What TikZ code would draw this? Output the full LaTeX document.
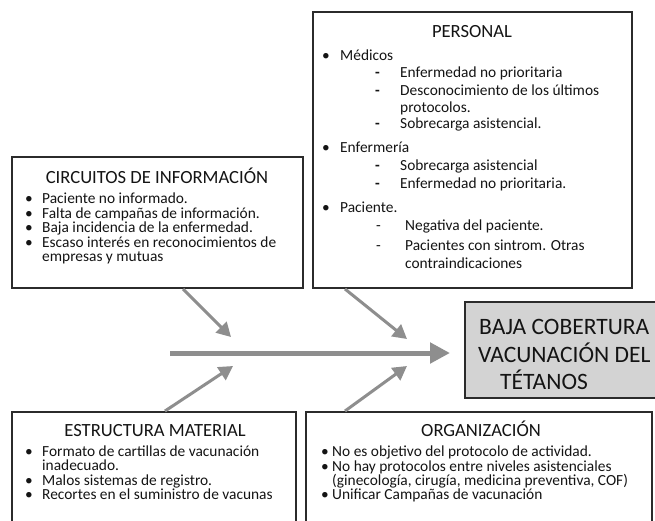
\documentclass[tikz,border=0pt]{standalone}
\usepackage{fontspec}
\setmainfont{Carlito}
\usetikzlibrary{arrows.meta}
\definecolor{boxline}{HTML}{2B2B2B}
\definecolor{arrowgray}{HTML}{8E8E8E}
\definecolor{outfill}{HTML}{D3D3D3}
\definecolor{txt}{HTML}{141414}
\begin{document}
\begin{tikzpicture}[x=1pt,y=-1pt,
  panel/.style={draw=boxline, line width=1.3pt, inner sep=0pt, outer sep=0pt, anchor=north west},
  ln/.style={anchor=base west, inner sep=0pt, font=\fontsize{15.4}{17}\selectfont, text=txt},
  ttl/.style={anchor=base, inner sep=0pt, font=\fontsize{18.6}{20}\selectfont, text=txt},
  big/.style={anchor=base west, inner sep=0pt, font=\fontsize{23.5}{26}\selectfont, text=txt},
  bone/.style={draw=arrowgray, line width=3pt, -{Triangle[length=14pt,width=15pt]}},
  spine/.style={draw=arrowgray, line width=5pt, -{Triangle[length=20pt,width=20pt]}}
]
\useasboundingbox (0,0) rectangle (655,520);
\clip (0,0) rectangle (655,520);
\fill[white] (0,0) rectangle (655,520);

% boxes
\node[panel, minimum width=319pt, minimum height=276pt] (personal) at (313,12) {};
\node[panel, minimum width=291pt, minimum height=131pt] (circ) at (12,157) {};
\node[panel, minimum width=284pt, minimum height=130pt] (estr) at (12,412) {};
\node[panel, minimum width=346pt, minimum height=130pt] (org) at (306,412) {};
\node[panel, fill=outfill, minimum width=220pt, minimum height=96pt] (efecto) at (465,302) {};

% titles
\node[ttl] (tpers) at (472,37) {PERSONAL};
\node[ttl] (tcirc) at (157,183) {CIRCUITOS DE INFORMACIÓN};
\node[ttl] (testr) at (155,436) {ESTRUCTURA MATERIAL};
\node[ttl] (torg) at (481,436) {ORGANIZACIÓN};

% efecto
\node[big] (e1) at (479,334) {BAJA COBERTURA};
\node[big] (e2) at (478,362) {VACUNACIÓN DEL};
\node[big] (e3) at (500,389) {TÉTANOS};

% circuitos
\node[ln] (cb1) at (25,203) {•};
\node[ln] (c1) at (42,203) {Paciente no informado.};
\node[ln] (cb2) at (25,218) {•};
\node[ln] (c2) at (42,218) {Falta de campañas de información.};
\node[ln] (cb3) at (25,232) {•};
\node[ln] (c3) at (42,232) {Baja incidencia de la enfermedad.};
\node[ln] (cb4) at (25,247) {•};
\node[ln] (c4) at (42,247) {Escaso interés en reconocimientos de};
\node[ln] (c5) at (42,261) {empresas y mutuas};

% estructura
\node[ln] (sb1) at (25,456) {•};
\node[ln] (s1) at (42,456) {Formato de cartillas de vacunación};
\node[ln] (s2) at (42,470) {inadecuado.};
\node[ln] (sb3) at (25,485) {•};
\node[ln] (s3) at (42,485) {Malos sistemas de registro.};
\node[ln] (sb4) at (25,499) {•};
\node[ln] (s4) at (42,499) {Recortes en el suministro de vacunas};

% organizacion
\node[ln] (ob1) at (321,456) {•};
\node[ln] (o1) at (332,456) {No es objetivo del protocolo de actividad.};
\node[ln] (ob2) at (321,471) {•};
\node[ln] (o2) at (332,471) {No hay protocolos entre niveles asistenciales};
\node[ln] (o3) at (332,485) {(ginecología, cirugía, medicina preventiva, COF)};
\node[ln] (ob4) at (321,499) {•};
\node[ln] (o4) at (332,499) {Unificar Campañas de vacunación};

% personal
\node[ln] (pb1) at (322,60) {•};
\node[ln] (p1) at (340,60) {Médicos};
\node[ln] (pd1) at (375,77) {\bfseries -};
\node[ln] (p2) at (400,77) {Enfermedad no prioritaria};
\node[ln] (pd2) at (375,95) {\bfseries -};
\node[ln] (p3) at (400,95) {Desconocimiento de los últimos};
\node[ln] (p4) at (400,112) {protocolos.};
\node[ln] (pd3) at (375,128) {\bfseries -};
\node[ln] (p5) at (400,128) {Sobrecarga asistencial.};
\node[ln] (pb2) at (322,152) {•};
\node[ln] (p6) at (340,152) {Enfermería};
\node[ln] (pd4) at (375,170) {\bfseries -};
\node[ln] (p7) at (400,170) {Sobrecarga asistencial};
\node[ln] (pd5) at (375,188) {\bfseries -};
\node[ln] (p8) at (400,188) {Enfermedad no prioritaria.};
\node[ln] (pb3) at (322,212) {•};
\node[ln] (p9) at (340,212) {Paciente.};
\node[ln] (pd6) at (376,230) {-};
\node[ln] (p10) at (405,230) {Negativa del paciente.};
\node[ln] (pd7) at (376,250) {-};
\node[ln] (p11) at (405,250) {Pacientes con sintrom. Otras};
\node[ln] (p12) at (405,268) {contraindicaciones};

% arrows
\coordinate (tail) at (170,353);
\coordinate (h1) at (231,337);
\coordinate (h2) at (407,339);
\coordinate (h3) at (233,366);
\coordinate (h4) at (407,366);
\draw[spine, shorten >=15pt] (tail) -- (tail -| efecto.west);
\draw[bone] ([xshift=171pt,yshift=-1pt]circ.south west) -- (h1);
\draw[bone] ([xshift=32pt,yshift=-1pt]personal.south west) -- (h2);
\draw[bone] ([xshift=153pt,yshift=1pt]estr.north west) -- (h3);
\draw[bone] ([xshift=39pt,yshift=1pt]org.north west) -- (h4);
\end{tikzpicture}
\end{document}
